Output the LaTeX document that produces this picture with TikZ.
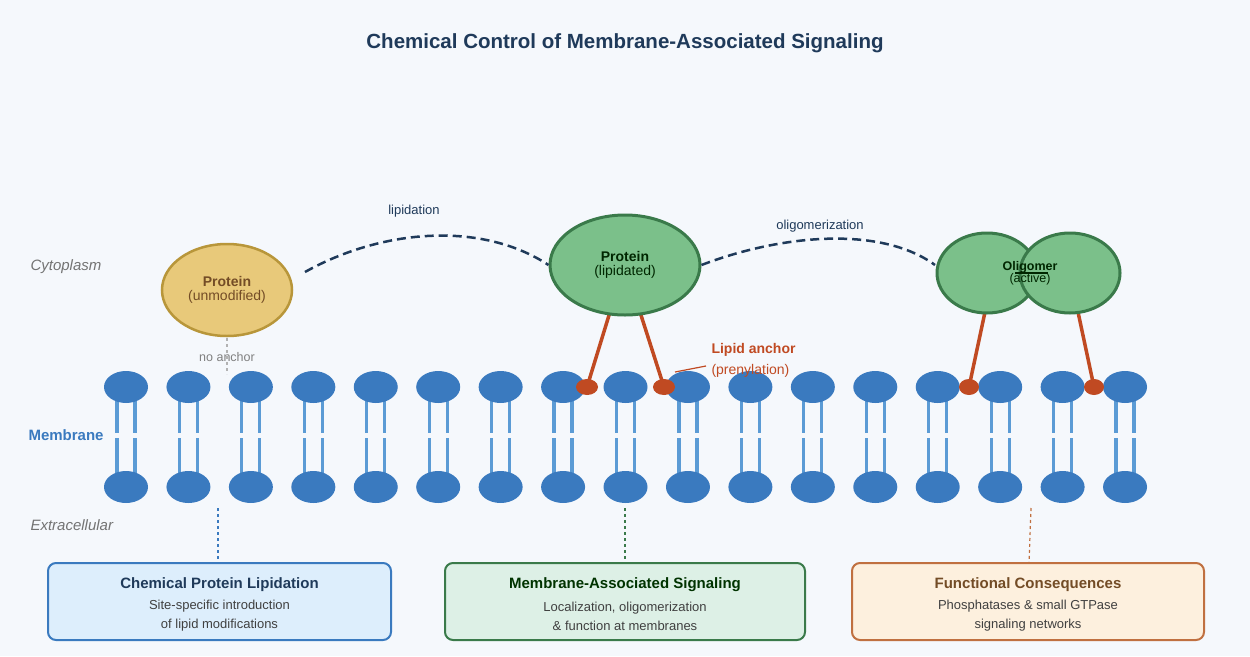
\documentclass[tikz,border=0pt]{standalone}
\usepackage{fontspec}
\setmainfont{Liberation Sans}
\usetikzlibrary{shapes.geometric}
\definecolor{bg}{HTML}{F5F8FC}
\definecolor{navy}{HTML}{1F3A5A}
\definecolor{head}{HTML}{3A7ABF}
\definecolor{tail}{HTML}{5B9BD5}
\definecolor{gold}{HTML}{E8C97A}
\definecolor{goldd}{HTML}{B8963A}
\definecolor{grn}{HTML}{7BC08A}
\definecolor{grnd}{HTML}{3A7A4A}
\definecolor{rust}{HTML}{C04A22}
\definecolor{bluebox}{HTML}{DDEEFC}
\definecolor{greenbox}{HTML}{DDF0E6}
\definecolor{orgbox}{HTML}{FDF0DE}
\definecolor{orgd}{HTML}{C07040}
\begin{document}
\begin{tikzpicture}[x=1pt,y=-1pt,
  hd/.style={fill=head,draw=none},
  tl/.style={tail,line width=3.2pt},
  anc/.style={rust,line width=3.5pt},
  dot/.style={fill=rust,draw=none},
  arc/.style={navy,line width=2.5pt,dash pattern=on 9pt off 5pt},
  box/.style={rounded corners=8pt,line width=2pt,minimum width=#1,minimum height=77pt},
  bt/.style={font=\fontsize{15}{17}\selectfont\bfseries},
  bs/.style={font=\fontsize{13}{19}\selectfont,align=center}]
\fill[bg] (0,0) rectangle (1250,656);
\useasboundingbox (0,0) rectangle (1250,656);
\node[navy,font=\fontsize{20.5}{24}\selectfont\bfseries] (title) at (625,43) {Chemical Control of Membrane-Associated Signaling};
% lipids
\foreach \i in {0,...,16}{
  \pgfmathsetmacro{\x}{126+62.44*\i}
  \draw[tl] (\x-9,400) -- (\x-9,433) (\x-9,438) -- (\x-9,474);
  \draw[tl] (\x+9,400) -- (\x+9,433) (\x+9,438) -- (\x+9,474);
  \fill[hd] (\x,387) ellipse (22 and 16);
  \fill[hd] (\x,487) ellipse (22 and 16);
}
\node[gray!90!black,font=\fontsize{15}{17}\selectfont\itshape,anchor=west] (cyt) at (27,267) {Cytoplasm};
\node[head,font=\fontsize{15}{17}\selectfont\bfseries,anchor=west] (mem) at (25,435) {Membrane};
\node[gray!90!black,font=\fontsize{15}{17}\selectfont\itshape,anchor=west] (ext) at (27,525) {Extracellular};
% proteins
\node[draw=goldd,fill=gold,line width=2.5pt,ellipse,inner sep=0pt,minimum width=130pt,minimum height=92pt,align=center,text=brown!60!black] (p1) at (227,290) {\fontsize{14}{17}\selectfont\bfseries Protein\\[2pt]\fontsize{14}{17}\selectfont (unmodified)};
\coordinate (na1) at (227,338); \coordinate (na2) at (227,374);
\draw[gray!60,dashed,line width=2pt] (na1) -- (na2);
\node[gray,font=\fontsize{12.5}{14}\selectfont] (na) at (227,357) {no anchor};
% anchors lipidated
\coordinate (a1) at (587,387); \coordinate (a2) at (664,387);
\draw[anc] (610,312) -- (a1); \draw[anc] (640,312) -- (a2);
\fill[dot] (a1) ellipse (11 and 8); \fill[dot] (a2) ellipse (11 and 8);
\node[draw=grnd,fill=grn,line width=3pt,ellipse,inner sep=0pt,minimum width=150pt,minimum height=100pt,align=center,text=green!15!black] (p2) at (625,265) {\fontsize{14}{17}\selectfont\bfseries Protein\\[2pt]\fontsize{14}{17}\selectfont (lipidated)};
% oligomer
\coordinate (a3) at (969,387); \coordinate (a4) at (1094,387);
\draw[anc] (985,312) -- (a3); \draw[anc] (1078,312) -- (a4);
\fill[dot] (a3) ellipse (10 and 8); \fill[dot] (a4) ellipse (10 and 8);
\draw[grnd,fill=grn,line width=3pt] (987,273) ellipse (50 and 40);
\draw[grnd,fill=grn,line width=3pt] (1070,273) ellipse (50 and 40);
\node[align=center,text=green!15!black] (olig) at (1030,273) {\fontsize{12.5}{17}\selectfont\bfseries Oligomer\\\fontsize{12.5}{17}\selectfont (active)};
\draw[green!15!black,line width=2.5pt] (1015,273) -- (1048,273);
% arcs
\draw[arc] (305,272) .. controls (380,230) and (480,220) .. (p2.west);
\node[navy,font=\fontsize{13}{15}\selectfont] (l1) at (414,211) {lipidation};
\draw[arc] (p2.east) .. controls (780,235) and (880,225) .. (935,265);
\node[navy,font=\fontsize{13}{15}\selectfont] (l2) at (820,226) {oligomerization};
% lipid anchor label
\node[rust,font=\fontsize{14}{17}\selectfont\bfseries,anchor=west] (la) at (708,350) {Lipid anchor};
\node[rust,font=\fontsize{14}{17}\selectfont,anchor=west] (lp) at (708,371) {(prenylation)};
\draw[rust,line width=1.2pt] (675,372) -- (706,366);
% boxes
\node[box=343pt,draw=head,fill=bluebox] (b1) at (219.5,601.5) {};
\node[bt,text=navy] at (219.5,585) {Chemical Protein Lipidation};
\node[bs,text=black!75] at (219.5,616) {Site-specific introduction\\of lipid modifications};
\node[box=360pt,draw=grnd,fill=greenbox] (b2) at (625,601.5) {};
\node[bt,text=green!20!black] at (625,585) {Membrane-Associated Signaling};
\node[bs,text=black!75] at (625,616) {Localization, oligomerization\\\& function at membranes};
\node[box=352pt,draw=orgd,fill=orgbox] (b3) at (1028,601.5) {};
\node[bt,text=brown!60!black] at (1028,585) {Functional Consequences};
\node[bs,text=black!75] at (1028,616) {Phosphatases \& small GTPase\\signaling networks};
\coordinate (c1) at (218,508); \coordinate (c2) at (625,508); \coordinate (c3) at (1031,508);
\draw[head,dashed,line width=1.2pt] (c1) -- (b1.north -| c1);
\draw[grnd,dashed,line width=1.2pt] (c2) -- (b2.north);
\draw[orgd,dashed,line width=1.2pt] (c3) -- (1029,563);
\end{tikzpicture}
\end{document}
